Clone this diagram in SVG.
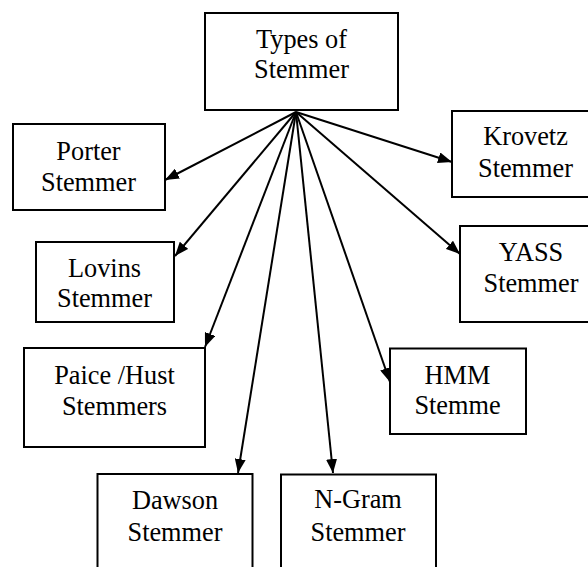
<svg xmlns="http://www.w3.org/2000/svg" width="588" height="567" viewBox="0 0 588 567">
<style>
.box{fill:#fff;stroke:#000;stroke-width:2}
.lbl{font-family:"Liberation Serif","Times New Roman",Tinos,"Nimbus Roman","DejaVu Serif",serif;font-size:26.3px;fill:#000;text-anchor:middle}
.edge{stroke:#000;stroke-width:2;fill:none;marker-end:url(#ah)}
</style>
<defs>
<marker id="ah" markerUnits="userSpaceOnUse" markerWidth="15" markerHeight="11" refX="14" refY="5.5" orient="auto">
<path d="M0,0 L14,5.5 L0,11 z" fill="#000"/>
</marker>
</defs>
<rect width="588" height="567" fill="#fff"/>
<g id="connectors">
<line class="edge" x1="296" y1="112" x2="165" y2="180"/>
<line class="edge" x1="296" y1="112" x2="175" y2="256"/>
<line class="edge" x1="296" y1="112" x2="205" y2="347"/>
<line class="edge" x1="296" y1="112" x2="238" y2="473"/>
<line class="edge" x1="296" y1="112" x2="333" y2="473"/>
<line class="edge" x1="296" y1="112" x2="390" y2="382"/>
<line class="edge" x1="296" y1="112" x2="460" y2="254"/>
<line class="edge" x1="296" y1="112" x2="452" y2="162"/>
</g>
<g id="types">
<rect class="box" x="205" y="13" width="193" height="97"/>
<text class="lbl" x="301.5" y="48">Types of</text>
<text class="lbl" x="301.5" y="77.5">Stemmer</text>
</g>
<g id="porter">
<rect class="box" x="13" y="124" width="152" height="86"/>
<text class="lbl" x="88.5" y="160">Porter</text>
<text class="lbl" x="88.5" y="190.5">Stemmer</text>
</g>
<g id="lovins">
<rect class="box" x="36" y="242" width="138" height="80"/>
<text class="lbl" x="104.5" y="276.5">Lovins</text>
<text class="lbl" x="104.5" y="306.5">Stemmer</text>
</g>
<g id="paice">
<rect class="box" x="24" y="348" width="181" height="99"/>
<text class="lbl" x="114.5" y="383.5">Paice /Hust</text>
<text class="lbl" x="114.5" y="415">Stemmers</text>
</g>
<g id="dawson">
<rect class="box" x="97.5" y="474" width="155" height="110"/>
<text class="lbl" x="175" y="509">Dawson</text>
<text class="lbl" x="175" y="541">Stemmer</text>
</g>
<g id="ngram">
<rect class="box" x="281" y="474.5" width="155" height="110"/>
<text class="lbl" x="358" y="508">N-Gram</text>
<text class="lbl" x="358" y="541">Stemmer</text>
</g>
<g id="hmm">
<rect class="box" x="390" y="348.5" width="136" height="85.5"/>
<text class="lbl" x="457.5" y="384">HMM</text>
<text class="lbl" x="457.5" y="413.5">Stemme</text>
</g>
<g id="yass">
<rect class="box" x="460" y="226" width="145" height="96"/>
<text class="lbl" x="531" y="260.5">YASS</text>
<text class="lbl" x="531" y="291.5">Stemmer</text>
</g>
<g id="krovetz">
<rect class="box" x="452" y="111" width="150" height="86"/>
<text class="lbl" x="525.5" y="145">Krovetz</text>
<text class="lbl" x="525.5" y="176.5">Stemmer</text>
</g>
</svg>
